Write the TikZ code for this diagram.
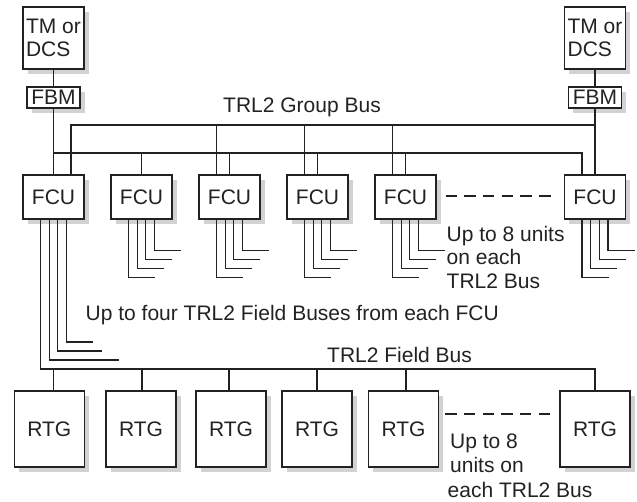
\documentclass[tikz,border=0pt]{standalone}
\usepackage{fontspec}
\setmainfont{Liberation Sans}
\usetikzlibrary{shadows,calc}
\definecolor{ink}{HTML}{222222}
\definecolor{shade}{HTML}{D2D2D2}
\begin{document}
\begin{tikzpicture}[x=1pt,y=-1pt,
  box/.style={draw=ink, fill=white, line width=1.2pt, inner sep=0pt, text=ink,
     font=\fontsize{21}{23.5}\selectfont,
     drop shadow={shadow xshift=4.5pt, shadow yshift=-4.5pt, fill=shade, opacity=1}},
  tmbox/.style={box, minimum width=61pt, minimum height=62pt, align=left},
  fbmbox/.style={box, minimum width=53pt, minimum height=21pt},
  fcubox/.style={box, minimum width=61pt, minimum height=44pt},
  rtgbox/.style={box, minimum width=70pt, minimum height=76pt},
  bus/.style={draw=ink, line width=1.2pt},
  dots/.style={bus, dash pattern=on 11.4pt off 7.3pt},
  lbl/.style={inner sep=0pt, text=ink, font=\fontsize{21}{23.5}\selectfont, anchor=base west}]
\useasboundingbox (0,0) rectangle (637,501);

% boxes
\node[tmbox] (tm1) at (53.5,38) {TM or\\DCS};
\node[tmbox] (tm2) at (595,38) {TM or\\DCS};
\node[fbmbox] (fbm1) at (53.5,97.5) {FBM};
\node[fbmbox] (fbm2) at (595,97.5) {FBM};
\foreach \i/\x in {1/53.5,2/141.5,3/229.5,4/317.5,5/405.5,6/595}
  \node[fcubox] (fcu\i) at (\x,197) {FCU};
\foreach \i/\x in {1/49.3,2/141,3/231,4/317,5/403.5,6/595}
  \node[rtgbox] (rtg\i) at (\x,429) {RTG};

% labels
\node[lbl, anchor=base] (gbl) at (302,112) {TRL2 Group Bus};
\node[lbl] (fbl) at (85.5,320) {Up to four TRL2 Field Buses from each FCU};
\node[lbl] (fieldl) at (327,362) {TRL2 Field Bus};
\node[lbl] (u1) at (446.5,241) {Up to 8 units};
\node[lbl] (u2) at (446.5,264.5) {on each};
\node[lbl] (u3) at (446.5,288) {TRL2 Bus};
\node[lbl] (r1) at (450,448) {Up to 8};
\node[lbl] (r2) at (450,472.5) {units on};
\node[lbl] (r3) at (447.5,497) {each TRL2 Bus};

% TM - FBM - FCU
\draw[bus] (tm1) -- (fbm1);
\draw[bus] (tm2) -- (fbm2);
\draw[bus] (fbm1) -- (fcu1);
\draw[bus] (fbm2) -- (fcu6);

% group buses
\coordinate (gu) at (0,125);
\coordinate (gl) at (0,153);
\draw[bus] ($(fcu1.north)+(17.5,0)$) |- (fbm2.south |- gu);
\draw[bus] (fbm1.south |- gl) -| ($(fcu6.north)+(-13,0)$);
\draw[bus] (fcu2.north) -- (fcu2.north |- gl);
\foreach \i in {3,4,5}{
  \draw[bus] (fcu\i.north) -- (fcu\i.north |- gl);
  \draw[bus] ($(fcu\i.north)+(-13,0)$) coordinate (t) -- (t |- gu);
}

% field bus leads
\foreach \i in {2,...,6}{
  \foreach \dx/\yy [count=\k] in {13/250,4.33/259,-4.33/268,-13/277}{
    \coordinate (e\i\k) at ($(fcu\i.south)+(\dx+26.5,\yy-219)$);
    \draw[bus] ($(fcu\i.south)+(\dx,0)$) |- (e\i\k);
  }
}
\foreach \dx/\yy/\ex [count=\k] in {13/342/93,4.33/351/102,-4.33/360/119}{
  \coordinate (e1\k) at (\ex,\yy);
  \draw[bus] ($(fcu1.south)+(\dx,0)$) |- (e1\k);
}

% TRL2 field bus
\coordinate (fbr) at (595,369);
\draw[bus] ($(fcu1.south)+(-13,0)$) |- (fbr) -- (rtg6.north);
\foreach \i/\dx in {1/4,2/1,3/-2,4/0,5/2.5}{
  \draw[bus] ($(rtg\i.north)+(\dx,0)$) coordinate (t) -- (t |- fbr);
}

% dashed continuation
\draw[dots, shorten <=9pt, shorten >=13pt] ([yshift=1pt]fcu5.east) -- ([yshift=1pt]fcu6.west);
\draw[dots, shorten <=6pt, shorten >=9.4pt] ([yshift=15pt]rtg5.east) -- ([yshift=15pt]rtg6.west);
\end{tikzpicture}
\end{document}
